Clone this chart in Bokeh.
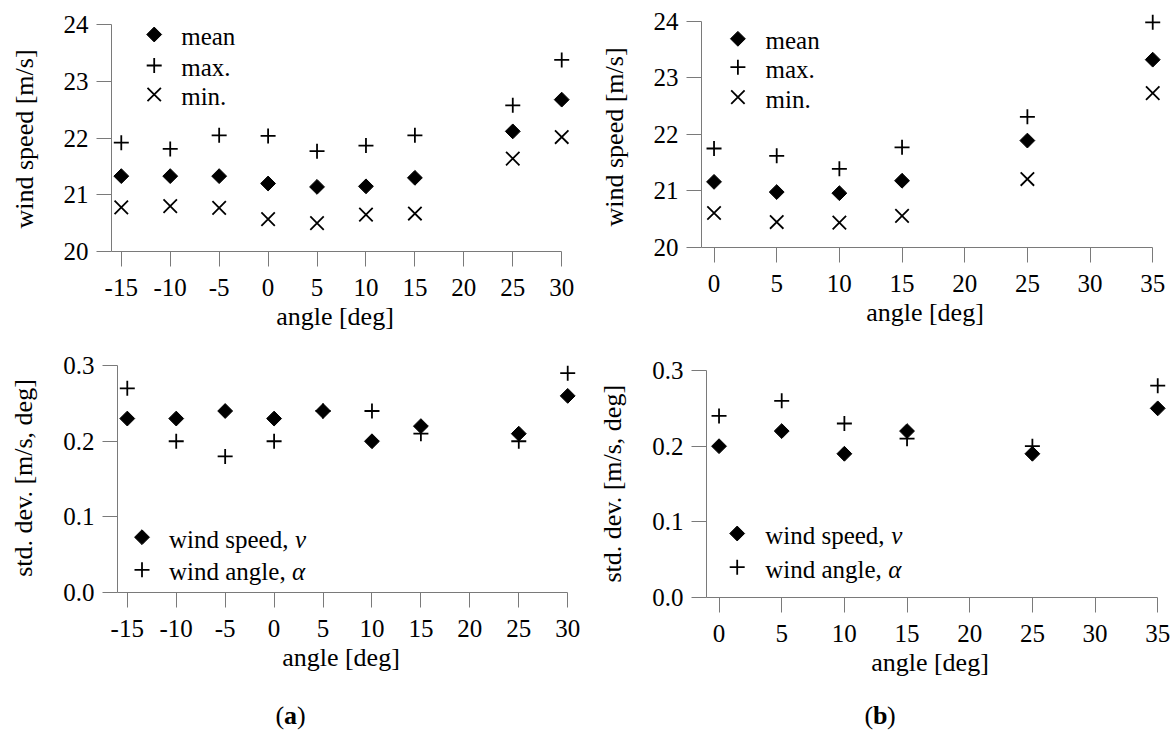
import numpy as np
from bokeh.plotting import figure
from bokeh.models import Range1d, FixedTicker
from bokeh.layouts import column, row
from bokeh.embed import file_html
from bokeh.resources import INLINE
from bokeh.core.properties import value

# ---------------- data ----------------
angles_a = [-15, -10, -5, 0, 5, 10, 15, 25, 30]
mean_a = [21.33, 21.33, 21.33, 21.20, 21.14, 21.15, 21.30, 22.12, 22.68]
max_a = [21.92, 21.81, 22.05, 22.04, 21.77, 21.87, 22.05, 22.58, 23.38]
min_a = [20.78, 20.80, 20.77, 20.57, 20.50, 20.65, 20.67, 21.64, 22.02]
std_speed_a = [0.23, 0.23, 0.24, 0.23, 0.24, 0.20, 0.22, 0.21, 0.26]
std_angle_a = [0.27, 0.20, 0.18, 0.20, 0.24, 0.24, 0.21, 0.20, 0.29]

angles_b = [0, 5, 10, 15, 25, 35]
mean_b = [21.16, 20.98, 20.96, 21.18, 21.89, 23.32]
max_b = [21.75, 21.62, 21.39, 21.77, 22.31, 23.98]
min_b = [20.61, 20.45, 20.44, 20.56, 21.21, 22.73]
std_speed_b = [0.20, 0.22, 0.19, 0.22, 0.19, 0.25]
std_angle_b = [0.24, 0.26, 0.23, 0.21, 0.20, 0.28]

xticks_a = [-15, -10, -5, 0, 5, 10, 15, 20, 25, 30]
xticks_b = [0, 5, 10, 15, 20, 25, 30, 35]
yticks_speed = [20, 21, 22, 23, 24]
yticks_std = [0.0, 0.1, 0.2, 0.3]

speed_legend = ["mean", "max.", "min."]
std_legend = ["wind speed, ", "wind angle, "]
std_legend_sym = ["v", "\u03b1"]
xlabel = "angle [deg]"
ylabel_speed = "wind speed [m/s]"
ylabel_std = "std. dev. [m/s, deg]"
panel_letters = ["a", "b"]

FONT = "Liberation Serif, Times New Roman, serif"
AX_COL = "#7a7a7a"
PAD = "\u00a0"  # non-breaking space used to nudge centred axis titles
DIAMOND = dict(marker="square", angle=np.pi / 4, size=10.5, color="black")
CROSS = dict(marker="cross", size=15, line_width=1.8, color="black")
XMARK = dict(marker="x", size=19, line_width=1.8, color="black")


def make_fig(xr, yr, xb, yb, xticks, yticks, ylabel, fw, fh, bl, br, bt, bb, yfmt,
             xpad=2, ypad=2):
    p = figure(output_backend="svg", toolbar_location=None,
               frame_width=fw, frame_height=fh,
               x_range=Range1d(*xr), y_range=Range1d(*yr),
               min_border_left=bl, min_border_right=br,
               min_border_top=bt, min_border_bottom=bb)
    p.extra_x_ranges = {"px": Range1d(0, fw)}
    p.extra_y_ranges = {"px": Range1d(0, fh)}
    p.grid.visible = False
    p.outline_line_color = None
    p.background_fill_color = "white"
    p.border_fill_color = "white"
    ax, ay = p.xaxis[0], p.yaxis[0]
    ax.bounds = xb
    ay.bounds = yb
    ax.ticker = FixedTicker(ticks=xticks)
    ay.ticker = FixedTicker(ticks=yticks)
    ax.major_label_overrides = {t: str(t) for t in xticks}
    ay.major_label_overrides = {t: yfmt.format(t) for t in yticks}
    for a in (ax, ay):
        a.axis_line_color = AX_COL
        a.major_tick_line_color = AX_COL
        a.minor_tick_line_color = None
        a.major_tick_in = 0
        a.major_tick_out = 15
        a.major_label_text_font = FONT
        a.major_label_text_font_size = "25px"
        a.major_label_text_color = "black"
        a.axis_label_text_font = FONT
        a.axis_label_text_font_size = "26px"
        a.axis_label_text_font_style = "normal"
        a.axis_label_text_color = "black"
    ax.major_label_standoff = 12
    ay.major_label_standoff = 8
    ax.axis_label = xlabel + PAD * xpad
    ay.axis_label = ylabel + PAD * ypad
    ax.axis_label_standoff = 3
    ay.axis_label_standoff = 22
    return p


def legend_marker(p, x, y, style):
    p.scatter(x=[x], y=[y], x_range_name="px", y_range_name="px", **style)


def legend_text(p, x, y, txt, style="normal", size="25px"):
    p.text(x=[x], y=[y], text=[txt], x_range_name="px", y_range_name="px",
           text_font=value(FONT), text_font_size=size, text_font_style=style,
           text_baseline="middle", text_align="left", text_color="black")


# ---------------- (a) top: wind speed ----------------
p1 = make_fig((-16, 31), (20, 24.2), (-16, 30), (20, 24), xticks_a, yticks_speed,
              ylabel_speed, 460, 238, 111, 19, 13, 99, "{:d}", 2, 2)
p1.scatter(angles_a, mean_a, **DIAMOND)
p1.scatter(angles_a, max_a, **CROSS)
p1.scatter(angles_a, min_a, **XMARK)
for (yy, st, lab) in zip([217, 186, 157], [DIAMOND, CROSS, XMARK], speed_legend):
    legend_marker(p1, 42.7, yy, st)
    legend_text(p1, 69.7, yy - 2, lab)

# ---------------- (b) top: wind speed ----------------
p2 = make_fig((-1, 35.7), (20, 24.136), (-1, 35), (20, 24), xticks_b, yticks_speed,
              ylabel_speed, 460, 234, 111, 13, 13, 103, "{:d}", 2, 2)
p2.scatter(angles_b, mean_b, **DIAMOND)
p2.scatter(angles_b, max_b, **CROSS)
p2.scatter(angles_b, min_b, **XMARK)
for (yy, st, lab) in zip([208.7, 180.3, 150.3], [DIAMOND, CROSS, XMARK], speed_legend):
    legend_marker(p2, 36.4, yy, st)
    legend_text(p2, 64, yy - 2, lab)

# ---------------- (a) bottom: std dev ----------------
p3 = make_fig((-16, 31), (0, 0.32), (-16, 30), (0, 0.3), xticks_a, yticks_std,
              ylabel_std, 460, 242, 117, 13, 0, 103, "{:.1f}", 2, 2)
p3.scatter(angles_a, std_angle_a, **CROSS)
p3.scatter(angles_a, std_speed_a, **DIAMOND)
for (yy, st, lab, sym) in zip([55.3, 22.7], [DIAMOND, CROSS], std_legend, std_legend_sym):
    legend_marker(p3, 24.5, yy, st)
    legend_text(p3, 51.5, yy - 2, lab)
    legend_text(p3, 51.5 + (126 if sym == "v" else 123), yy - 2, sym, "italic")

# ---------------- (b) bottom: std dev ----------------
p4 = make_fig((-1, 35.7), (0, 0.3265), (-1, 35), (0, 0.3), xticks_b, yticks_std,
              ylabel_std, 460, 247, 116, 8, 0, 98, "{:.1f}", 2, 3)
p4.scatter(angles_b, std_angle_b, **CROSS)
p4.scatter(angles_b, std_speed_b, **DIAMOND)
for (yy, st, lab, sym) in zip([64, 30.3], [DIAMOND, CROSS], std_legend, std_legend_sym):
    legend_marker(p4, 30.7, yy, st)
    legend_text(p4, 58.7, yy - 2, lab)
    legend_text(p4, 58.7 + (126 if sym == "v" else 123), yy - 2, sym, "italic")

# ---------------- panel tags (a), (b) ----------------
TAG_W, TAG_H = 1174, 36
ptag = figure(output_backend="svg", toolbar_location=None,
              frame_width=TAG_W, frame_height=TAG_H,
              x_range=Range1d(0, TAG_W), y_range=Range1d(0, TAG_H),
              min_border=0)
ptag.axis.visible = False
ptag.grid.visible = False
ptag.outline_line_color = None
for x0, letter, lw in zip([275, 864], panel_letters, [13, 14]):
    for dx, txt, st in [(0, "(", "normal"), (8.5, letter, "bold"), (8.5 + lw, ")", "normal")]:
        ptag.text(x=[x0 + dx], y=[16], text=[txt], text_font=value(FONT),
                  text_font_size="26px", text_font_style=st,
                  text_baseline="middle", text_align="left", text_color="black")

layout = column(row(p1, p2), row(p3, p4), ptag)
open("out.html", "w").write(file_html(layout, INLINE))
